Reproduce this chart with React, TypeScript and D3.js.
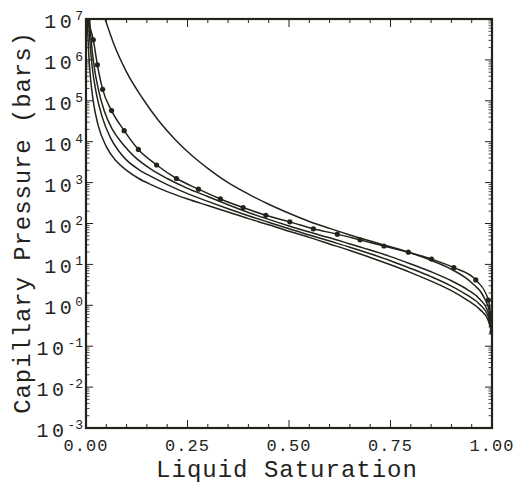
import React from 'react';
import * as d3 from 'd3';

const xMajorTicks = [0, 0.25, 0.5, 0.75, 1.0];
const xTickLabels = ['0.00', '0.25', '0.50', '0.75', '1.00'];
const yExponents = [-3, -2, -1, 0, 1, 2, 3, 4, 5, 6, 7];

// Curve with circle markers (saturation, log10 capillary pressure in bars)
const markerSat = [0.0, 0.018, 0.028, 0.041, 0.063, 0.094, 0.129, 0.174, 0.223, 0.277, 0.331, 0.387, 0.443, 0.502, 0.56, 0.619, 0.675, 0.734, 0.794, 0.851, 0.906, 0.96, 0.991, 1.0];
const markerLogPc = [7.0, 6.49, 5.88, 5.28, 4.76, 4.27, 3.81, 3.43, 3.1, 2.84, 2.6, 2.39, 2.2, 2.04, 1.87, 1.74, 1.6, 1.45, 1.3, 1.13, 0.92, 0.62, 0.13, -0.65];

// Upper curve
const curveASat = [0.047, 0.07, 0.1, 0.14, 0.18, 0.22, 0.26, 0.3, 0.35, 0.4, 0.45, 0.5, 0.55, 0.6, 0.65, 0.7, 0.75, 0.8, 0.85, 0.9, 0.95, 0.98, 0.995, 1.0];
const curveALogPc = [7.0, 6.35, 5.7, 5.05, 4.5, 4.05, 3.67, 3.35, 3.0, 2.72, 2.47, 2.25, 2.05, 1.88, 1.72, 1.57, 1.43, 1.28, 1.1, 0.88, 0.55, 0.2, -0.2, -0.7];

// Lower curves
const curveBSat = [0.009, 0.013, 0.02, 0.03, 0.045, 0.065, 0.09, 0.12, 0.16, 0.2, 0.25, 0.3, 0.35, 0.4, 0.45, 0.5, 0.55, 0.6, 0.65, 0.7, 0.75, 0.8, 0.85, 0.9, 0.94, 0.97, 0.99, 1.0];
const curveBLogPc = [7.0, 6.45, 5.85, 5.3, 4.75, 4.3, 3.95, 3.63, 3.33, 3.1, 2.86, 2.66, 2.46, 2.27, 2.1, 1.94, 1.79, 1.65, 1.5, 1.35, 1.19, 1.01, 0.82, 0.6, 0.38, 0.15, -0.15, -0.7];

const curveCSat = [0.006, 0.01, 0.015, 0.025, 0.04, 0.06, 0.08, 0.1, 0.13, 0.16, 0.2, 0.25, 0.3, 0.35, 0.4, 0.45, 0.5, 0.55, 0.6, 0.65, 0.7, 0.75, 0.8, 0.85, 0.9, 0.94, 0.97, 0.99, 1.0];
const curveCLogPc = [7.0, 6.4, 5.85, 5.2, 4.6, 4.1, 3.78, 3.55, 3.32, 3.15, 2.95, 2.73, 2.54, 2.36, 2.19, 2.03, 1.87, 1.72, 1.57, 1.42, 1.26, 1.09, 0.9, 0.7, 0.47, 0.24, 0.02, -0.25, -0.7];

const curveDSat = [0.003, 0.006, 0.01, 0.018, 0.03, 0.05, 0.075, 0.1, 0.13, 0.16, 0.2, 0.25, 0.3, 0.35, 0.4, 0.45, 0.5, 0.55, 0.6, 0.65, 0.7, 0.75, 0.8, 0.85, 0.9, 0.94, 0.97, 0.99, 1.0];
const curveDLogPc = [7.0, 6.28, 5.68, 4.98, 4.4, 3.88, 3.52, 3.3, 3.1, 2.95, 2.78, 2.6, 2.44, 2.28, 2.12, 1.97, 1.81, 1.66, 1.5, 1.34, 1.17, 0.99, 0.8, 0.59, 0.36, 0.12, -0.1, -0.35, -0.7];

const LEFT = 86, RIGHT = 492, TOP = 19, BOTTOM = 428;
const INK = '#23231c';
const FONT = '"Liberation Mono", "DejaVu Sans Mono", monospace';

export default function App() {
  const x = d3.scaleLinear().domain([0, 1]).range([LEFT, RIGHT]);
  const y = d3.scaleLog().domain([1e-3, 1e7]).range([BOTTOM, TOP]);

  const toPts = (s: number[], l: number[]) => s.map((v, i) => [v, Math.pow(10, l[i])] as [number, number]);
  const line = d3.line<[number, number]>().x(d => x(d[0])).y(d => y(d[1])).curve(d3.curveMonotoneX);

  const curves = [
    toPts(curveASat, curveALogPc),
    toPts(curveBSat, curveBLogPc),
    toPts(curveCSat, curveCLogPc),
    toPts(curveDSat, curveDLogPc),
    toPts(markerSat, markerLogPc),
  ];
  const markerPts = toPts(markerSat, markerLogPc);

  const xMinor = d3.range(0, 1.0001, 0.05).filter(v => Math.abs((v * 4) - Math.round(v * 4)) > 1e-6);
  const yMinor: number[] = [];
  for (let e = -3; e < 7; e++) for (let k = 2; k <= 9; k++) yMinor.push(k * Math.pow(10, e));

  return (
    <svg width={517} height={487} style={{ position: 'absolute', left: 0, top: 0, background: '#fff' }}>
      <defs>
        <clipPath id="plot"><rect x={LEFT} y={TOP} width={RIGHT - LEFT} height={BOTTOM - TOP} /></clipPath>
      </defs>
      <g clipPath="url(#plot)">
        {curves.map((c, i) => (
          <path key={i} d={line(c) || ''} fill="none" stroke={INK} strokeWidth={1.5} />
        ))}
        {markerPts.map((p, i) => (
          <circle key={i} cx={x(p[0])} cy={y(p[1])} r={2.6} fill={INK} />
        ))}
      </g>
      <g stroke={INK} strokeWidth={1}>
        {xMajorTicks.map((t, i) => (
          <g key={'xm' + i}>
            <line x1={x(t)} x2={x(t)} y1={BOTTOM} y2={BOTTOM - 8} />
            <line x1={x(t)} x2={x(t)} y1={TOP} y2={TOP + 8} />
          </g>
        ))}
        {xMinor.map((t, i) => (
          <g key={'xn' + i}>
            <line x1={x(t)} x2={x(t)} y1={BOTTOM} y2={BOTTOM - 4} />
            <line x1={x(t)} x2={x(t)} y1={TOP} y2={TOP + 4} />
          </g>
        ))}
        {yExponents.map((e, i) => (
          <g key={'ym' + i}>
            <line x1={LEFT} x2={LEFT + 7} y1={y(Math.pow(10, e))} y2={y(Math.pow(10, e))} />
            <line x1={RIGHT} x2={RIGHT - 7} y1={y(Math.pow(10, e))} y2={y(Math.pow(10, e))} />
          </g>
        ))}
        {yMinor.map((v, i) => (
          <g key={'yn' + i}>
            <line x1={LEFT} x2={LEFT + 3.5} y1={y(v)} y2={y(v)} strokeWidth={0.8} />
            <line x1={RIGHT} x2={RIGHT - 3.5} y1={y(v)} y2={y(v)} strokeWidth={0.8} />
          </g>
        ))}
      </g>
      <rect x={LEFT} y={TOP} width={RIGHT - LEFT} height={BOTTOM - TOP} fill="none" stroke={INK} strokeWidth={2.2} />
      {xMajorTicks.map((t, i) => (
        <text key={'xl' + i} x={x(t)} y={451} textAnchor="middle" fontFamily={FONT} fontSize={17} letterSpacing={1} fill={INK}>
          {xTickLabels[i]}
        </text>
      ))}
      {yExponents.map((e, i) => (
        <text key={'yl' + i} x={83} y={y(Math.pow(10, e)) + 9} textAnchor="end" fontFamily={FONT} fill={INK}>
          <tspan fontSize={20} letterSpacing={3.5}>10</tspan>
          <tspan fontSize={13} dy={-8}>{String(e)}</tspan>
        </text>
      ))}
      <text x={287} y={477} textAnchor="middle" fontFamily={FONT} fontSize={24} letterSpacing={1} fill={INK}>
        Liquid Saturation
      </text>
      <text transform={`translate(30,${(TOP + BOTTOM) / 2 - 1}) rotate(-90)`} textAnchor="middle" fontFamily={FONT} fontSize={24} letterSpacing={0.9} fill={INK}>
        Capillary Pressure (bars)
      </text>
    </svg>
  );
}
